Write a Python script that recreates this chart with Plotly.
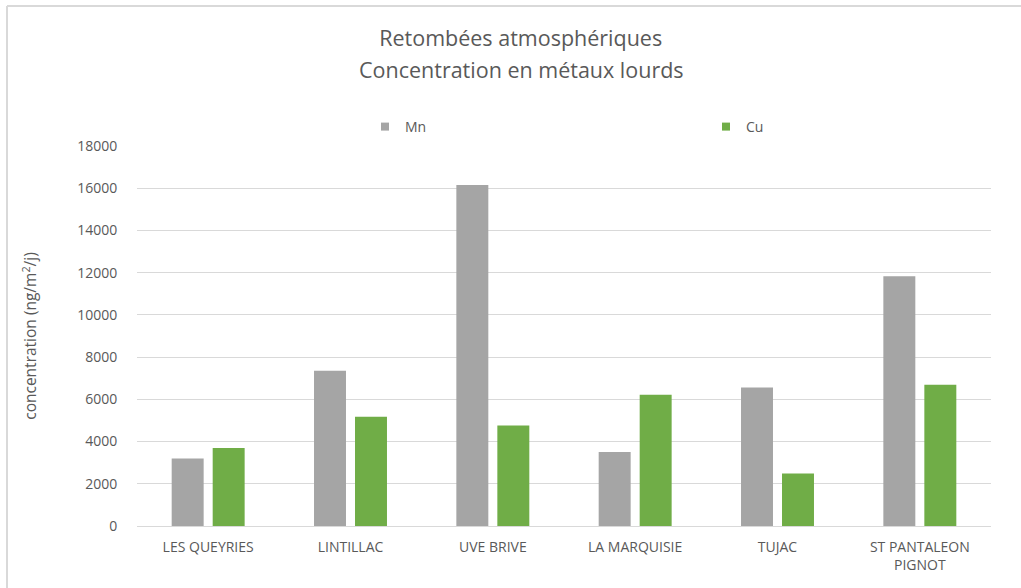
import plotly.graph_objects as go

categories = ["LES QUEYRIES", "LINTILLAC", "UVE BRIVE", "LA MARQUISIE", "TUJAC", "ST PANTALEON<br>PIGNOT"]
mn_values = [3200, 7350, 16150, 3500, 6560, 11830]
cu_values = [3700, 5170, 4760, 6220, 2490, 6690]
y_ticks = [0, 2000, 4000, 6000, 8000, 10000, 12000, 14000, 16000, 18000]
title_line1 = "Retombées atmosphériques"
title_line2 = "Concentration en métaux lourds"

W, H = 1021, 588
L, R, T, B = 137, 30, 146, 62
pw, ph = W - L - R, H - T - B

def px(x):
    return (x - L) / pw

def py(y):
    return (H - B - y) / ph

font_family = "Open Sans, Noto Sans, Liberation Sans, sans-serif"
txt = "#595959"
c_mn = "#A5A5A5"
c_cu = "#70AD47"

fig = go.Figure()
fig.add_trace(go.Bar(name="Mn", x=categories, y=mn_values, showlegend=False, legendgroup="mn",
                     marker=dict(color=c_mn, line=dict(width=0))))
fig.add_trace(go.Bar(name="Cu", x=categories, y=cu_values, showlegend=False, legendgroup="cu",
                     marker=dict(color=c_cu, line=dict(width=0))))
# legend entries with small square swatches
fig.add_trace(go.Scatter(name="Mn", x=[None], y=[None], mode="markers", legendgroup="mn",
                         marker=dict(symbol="square", size=8, color=c_mn)))
fig.add_trace(go.Scatter(name="Cu", x=[None], y=[None], mode="markers", legendgroup="cu",
                         marker=dict(symbol="square", size=8, color=c_cu)))

fig.update_layout(
    width=W, height=H,
    margin=dict(l=L, r=R, t=T, b=B, autoexpand=False),
    paper_bgcolor="white", plot_bgcolor="white",
    barmode="group", bargap=0.424, bargroupgap=0.22,
    font=dict(family=font_family, color=txt, size=14),
    title=dict(
        text=title_line1,
        x=0.51, xanchor="center", y=1 - 38.5 / H, yanchor="middle",
        font=dict(size=21.5, color=txt, family=font_family),
    ),
    annotations=[
        dict(text=title_line2, xref="paper", yref="paper", x=px(521.5), y=py(69.5),
             xanchor="center", yanchor="middle", showarrow=False,
             font=dict(size=21.5, color=txt, family=font_family)),
    ],
    showlegend=True,
    legend=dict(
        orientation="h", x=px(365), xanchor="left", y=py(127), yanchor="middle",
        entrywidth=296, entrywidthmode="pixels",
        font=dict(size=14, color=txt), bgcolor="rgba(0,0,0,0)",
        itemwidth=30,
    ),
    xaxis=dict(
        showgrid=False, showline=True, linecolor="#d9d9d9", linewidth=1,
        ticks="outside", ticklen=8, tickcolor="rgba(0,0,0,0)",
        tickfont=dict(size=14, color=txt), fixedrange=True,
    ),
    yaxis=dict(
        range=[0, 18000], tickvals=y_ticks, ticktext=[str(v) for v in y_ticks],
        showgrid=True, gridcolor="#d9d9d9", gridwidth=1,
        zeroline=False, showline=False,
        ticks="outside", ticklen=16, tickcolor="rgba(0,0,0,0)",
        tickfont=dict(size=14, color=txt),
        title=dict(text="concentration (ng/m<sup>2</sup>/j)", font=dict(size=15.5, color=txt), standoff=36),
    ),
    shapes=[
        dict(type="line", xref="paper", yref="paper", x0=px(7), x1=px(W + 5), y0=py(6), y1=py(6),
             line=dict(color="#d9d9d9", width=2)),
        dict(type="line", xref="paper", yref="paper", x0=px(7), x1=px(7), y0=py(6), y1=py(H + 5),
             line=dict(color="#d9d9d9", width=2)),
    ],
)

fig.write_html("out.html", config={"displayModeBar": False},
               post_script="document.body.style.margin='0';")
